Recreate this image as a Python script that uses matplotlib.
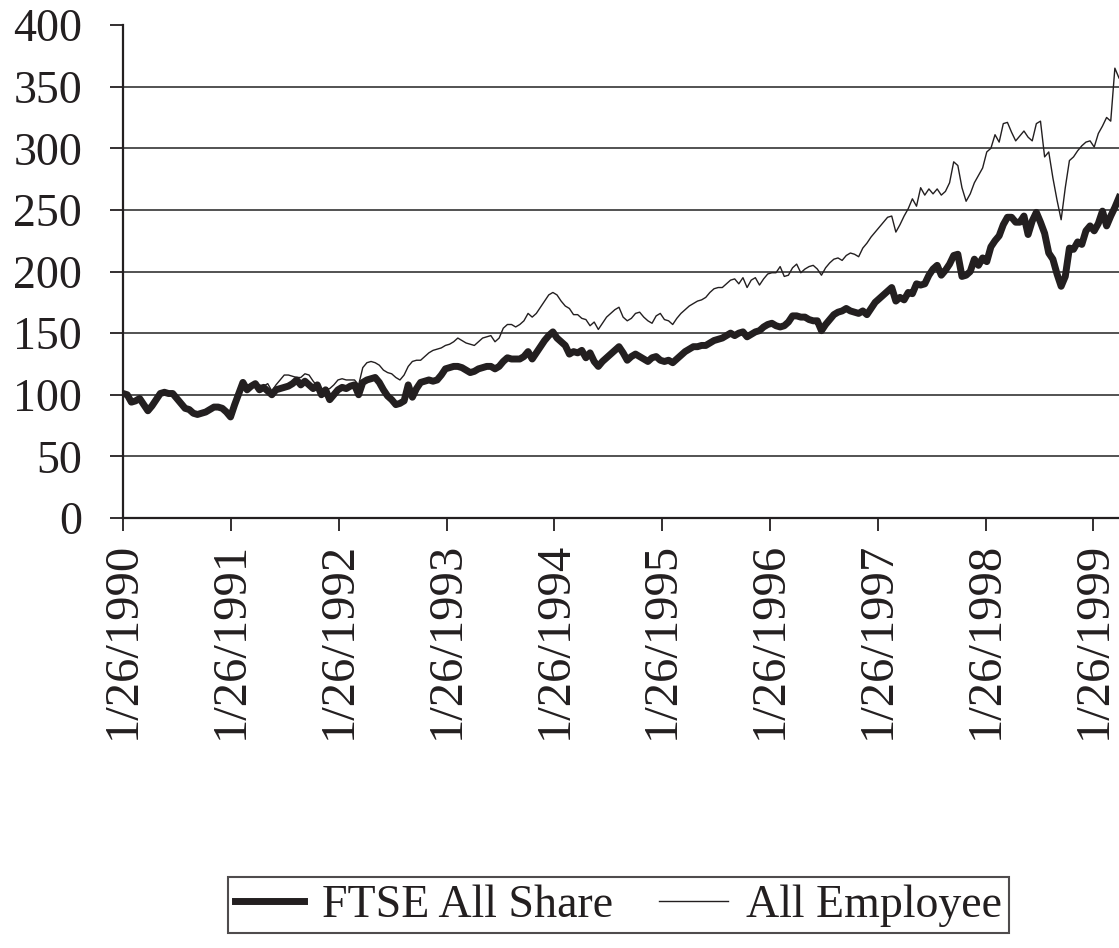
import matplotlib
matplotlib.use('Agg')
import matplotlib.pyplot as plt
import pandas as pd

# index values, one every two weeks from 26 Jan 1990
ftse = [
    101, 100, 94, 95, 97, 92, 87, 91, 96, 101,
    102, 101, 101, 97, 93, 89, 88, 85, 84, 85,
    86, 88, 90, 90, 89, 86, 82, 92, 101, 110,
    104, 107, 109, 104, 106, 103, 100, 104, 105, 106,
    107, 109, 112, 108, 111, 108, 105, 108, 100, 104,
    96, 100, 104, 106, 105, 107, 108, 100, 110, 112,
    113, 114, 110, 104, 99, 96, 92, 93, 95, 108,
    98, 105, 110, 111, 112, 111, 112, 116, 121, 122,
    123, 123, 122, 120, 118, 119, 121, 122, 123, 123,
    121, 123, 127, 130, 129, 129, 129, 131, 135, 129,
    134, 139, 144, 148, 151, 146, 143, 140, 133, 135,
    134, 136, 130, 134, 127, 123, 127, 130, 133, 136,
    139, 134, 128, 131, 133, 131, 129, 127, 130, 131,
    128, 127, 128, 126, 129, 132, 135, 137, 139, 139,
    140, 140, 142, 144, 145, 146, 148, 150, 148, 150,
    151, 147, 149, 151, 152, 155, 157, 158, 156, 155,
    156, 159, 164, 164, 163, 163, 161, 160, 160, 152,
    157, 161, 165, 167, 168, 170, 168, 167, 166, 168,
    165, 170, 175, 178, 181, 184, 187, 176, 179, 177,
    183, 182, 190, 189, 190, 197, 202, 205, 197, 201,
    206, 213, 214, 196, 197, 200, 210, 205, 211, 208,
    220, 225, 229, 238, 244, 244, 240, 240, 245, 230,
    241, 248, 240, 231, 215, 210, 198, 188, 196, 219,
    218, 224, 222, 233, 237, 233, 239, 249, 237, 245,
    252, 260]

all_employee = [
    101, 100, 94, 95, 97, 92, 87, 91, 96, 101,
    102, 101, 101, 97, 93, 89, 88, 85, 84, 85,
    86, 88, 90, 90, 89, 86, 82, 93, 102, 110,
    105, 108, 108, 108, 107, 109, 103, 108, 112, 116,
    116, 115, 114, 114, 117, 116, 111, 107, 105, 104,
    105, 108, 112, 113, 112, 112, 112, 108, 122, 126,
    127, 126, 124, 120, 118, 117, 114, 112, 116, 123,
    127, 128, 128, 131, 134, 136, 137, 138, 140, 141,
    143, 146, 144, 142, 141, 140, 143, 146, 147, 148,
    143, 146, 154, 157, 157, 155, 157, 160, 166, 163,
    166, 171, 176, 181, 183, 181, 176, 172, 170, 165,
    165, 162, 161, 156, 159, 153, 158, 163, 166, 169,
    171, 163, 160, 162, 166, 167, 163, 160, 158, 164,
    166, 161, 160, 157, 162, 166, 169, 172, 174, 176,
    177, 179, 183, 186, 187, 187, 190, 193, 194, 190,
    195, 187, 193, 195, 189, 194, 198, 199, 199, 204,
    196, 197, 203, 206, 199, 202, 204, 205, 202, 197,
    203, 207, 210, 211, 209, 213, 215, 214, 212, 219,
    223, 228, 232, 236, 240, 244, 245, 232, 238, 245,
    251, 259, 253, 268, 262, 267, 263, 267, 262, 265,
    272, 289, 286, 268, 257, 263, 272, 278, 284, 297,
    300, 311, 305, 320, 321, 313, 306, 310, 314, 309,
    306, 320, 322, 293, 297, 276, 258, 242, 268, 290,
    293, 298, 302, 305, 306, 301, 312, 318, 325, 322,
    365, 357]

tick_labels = ['1/26/1990', '1/26/1991', '1/26/1992', '1/26/1993', '1/26/1994',
               '1/26/1995', '1/26/1996', '1/26/1997', '1/26/1998', '1/26/1999']

plt.rcParams['font.family'] = ['Liberation Serif', 'DejaVu Serif']

dates = pd.date_range('1990-01-26', periods=len(ftse), freq='14D')
tick_dates = pd.to_datetime(tick_labels, format='%m/%d/%Y')

ink = '#231f20'
fig = plt.figure(figsize=(11.19, 9.48), dpi=100)
ax = fig.add_axes([0.110, 0.4536, 0.89, 0.52])
ax.plot(dates, ftse, color=ink, lw=5.0, label='FTSE All Share')
ax.plot(dates, all_employee, color=ink, lw=1.0, label='All Employee')

ax.set_xlim(dates[0], dates[-1])
ax.set_ylim(0, 400)
ax.set_yticks(range(0, 401, 50))
ax.set_xticks(tick_dates)
ax.set_xticklabels(tick_labels, rotation=90)
ax.tick_params(axis='both', direction='out', labelsize=33, width=1.3,
               color=ink, labelcolor=ink)
ax.tick_params(axis='y', length=9.5, pad=20)
ax.tick_params(axis='x', length=9, pad=8, labelsize=35)

for s in ['top', 'right']:
    ax.spines[s].set_visible(False)
for s in ['left', 'bottom']:
    ax.spines[s].set_linewidth(1.6)
    ax.spines[s].set_color(ink)

ax.grid(axis='y', color='#444444', lw=1.3)
ax.get_ygridlines()[-1].set_visible(False)
ax.set_axisbelow(True)

leg = fig.legend(loc='center', bbox_to_anchor=(0.553, 0.045), ncol=2,
                 fontsize=33, frameon=True, fancybox=False, edgecolor=ink,
                 handlelength=1.5, handletextpad=0.4, columnspacing=1.0,
                 borderpad=0.15, borderaxespad=0)
leg.get_frame().set_linewidth(1.5)
for t in leg.get_texts():
    t.set_color(ink)

fig.savefig('out.png', dpi=100)
